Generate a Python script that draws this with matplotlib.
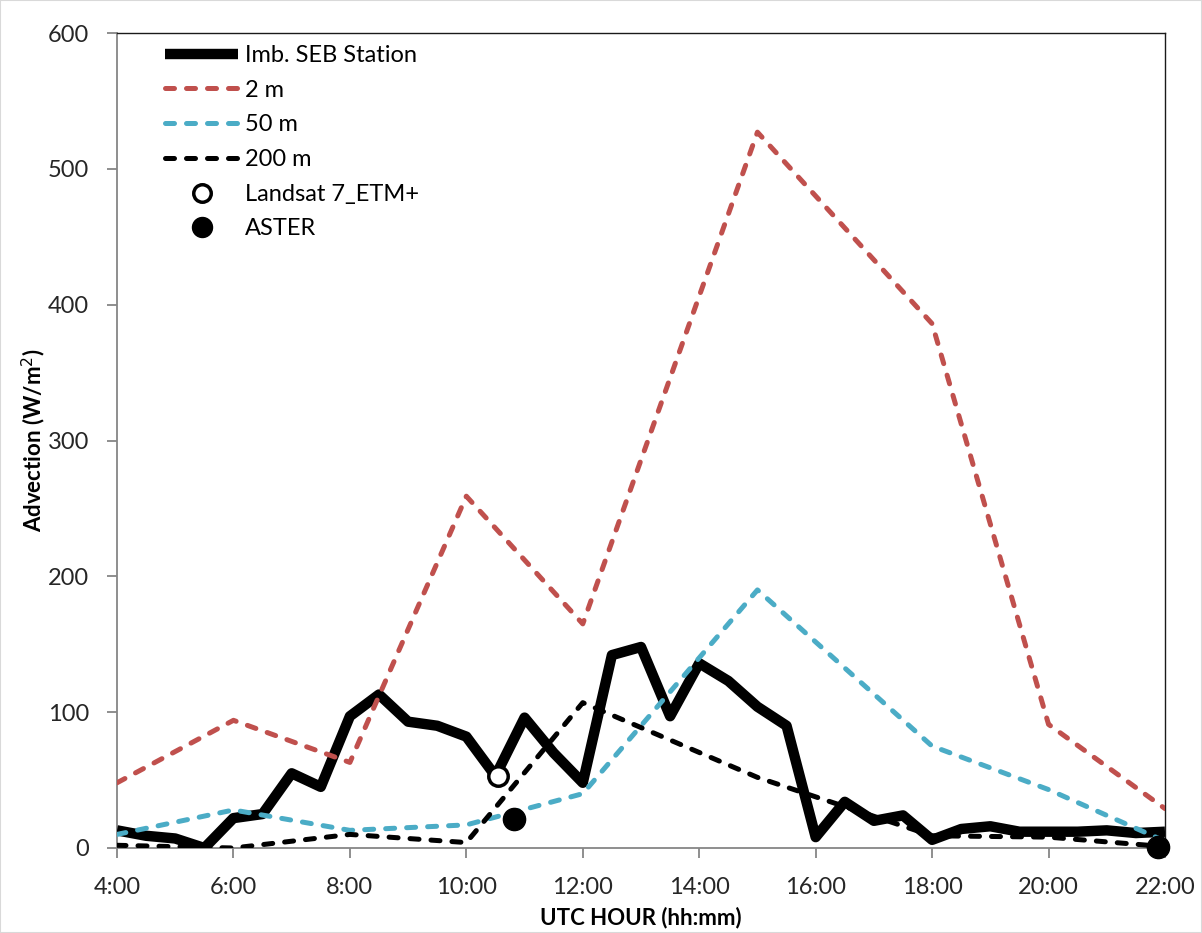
import matplotlib
matplotlib.use("Agg")
import matplotlib.pyplot as plt
from matplotlib.patches import Rectangle

plt.rcParams['font.family'] = ['Lato', 'DejaVu Sans']

# half-hourly station imbalance, 4:00 .. 22:00
seb_hours = [4 + 0.5 * i for i in range(37)]
seb_vals = [13, 9, 7, 0, 22, 25, 55, 45, 97, 113, 93, 90, 82, 53, 96, 70, 48,
            142, 148, 97, 136, 123, 104, 90, 8, 34, 20, 24, 6, 14, 16, 12, 12,
            12, 13, 11, 12]

# modelled advection at three heights
model_hours = [4, 6, 8, 10, 12, 15, 18, 20, 22]
adv_2m = [48, 94, 63, 259, 165, 527, 386, 91, 29]
adv_50m = [10, 28, 13, 17, 40, 190, 75, 43, 5]
adv_200m = [2, 0, 10, 4, 107, 52, 9, 8, 1]

# satellite overpasses
landsat_x = [10.55]
landsat_y = [53]
aster_x = [10.82, 21.88]
aster_y = [21, 1]

tick_hours = list(range(4, 23, 2))
tick_labels = [f'{h}:00' for h in tick_hours]

red = '#C0504D'
cyan = '#4BACC6'

fig = plt.figure(figsize=(12.02, 9.33), dpi=100)
ax = fig.add_axes([117 / 1202, 85 / 933, (1165 - 117) / 1202, (848 - 33) / 933])

ax.plot(seb_hours, seb_vals, color='black', lw=7.5, solid_joinstyle='round',
        solid_capstyle='butt', label='Imb. SEB Station', zorder=3)
dash_kw = dict(lw=3.6, dash_capstyle='round', dashes=(1.8, 2.4))
ax.plot(model_hours, adv_2m, color=red, label='2 m', zorder=4, **dash_kw)
ax.plot(model_hours, adv_50m, color=cyan, label='50 m', zorder=4, **dash_kw)
ax.plot(model_hours, adv_200m, color='black', label='200 m', zorder=4, **dash_kw)
ax.plot(landsat_x, landsat_y, 'o', ms=14, mfc='white', mec='black', mew=2.5,
        label='Landsat 7_ETM+', zorder=6, clip_on=False)
ax.plot(aster_x, aster_y, 'o', ms=16, mfc='black', mec='black',
        label='ASTER', zorder=6, clip_on=False)

ax.set_xlim(4, 22)
ax.set_ylim(0, 600)
ax.set_xticks(tick_hours)
ax.set_xticklabels(tick_labels)
ax.set_yticks(range(0, 601, 100))

for side in ['left', 'bottom']:
    ax.spines[side].set_color('#868686')
    ax.spines[side].set_linewidth(1.3)
for side in ['top', 'right']:
    ax.spines[side].set_color('#1a1a1a')
    ax.spines[side].set_linewidth(1.0)

ax.tick_params(axis='both', direction='out', color='#868686', width=1.3,
               length=7, labelsize=17, labelcolor='#262626')
ax.tick_params(axis='x', pad=14)
ax.tick_params(axis='y', pad=13)

ax.set_xlabel('UTC HOUR (hh:mm)', fontsize=16, fontweight='bold', labelpad=6)
ax.set_ylabel('Advection (W/m$^2$)', fontsize=16, fontweight='bold', labelpad=0)

leg = ax.legend(loc='upper left', bbox_to_anchor=(165 / 1202, 1 - 45 / 933),
                bbox_transform=fig.transFigure, frameon=False, fontsize=17,
                handlelength=3.1, handletextpad=0.3, labelspacing=0.58,
                borderpad=0, borderaxespad=0, numpoints=1, markerscale=0.9)

fig.patches.append(Rectangle((0, 0), 1, 1, transform=fig.transFigure, fill=False,
                             edgecolor='#d9d9d9', lw=1.5))

fig.savefig('out.png', dpi=100)
